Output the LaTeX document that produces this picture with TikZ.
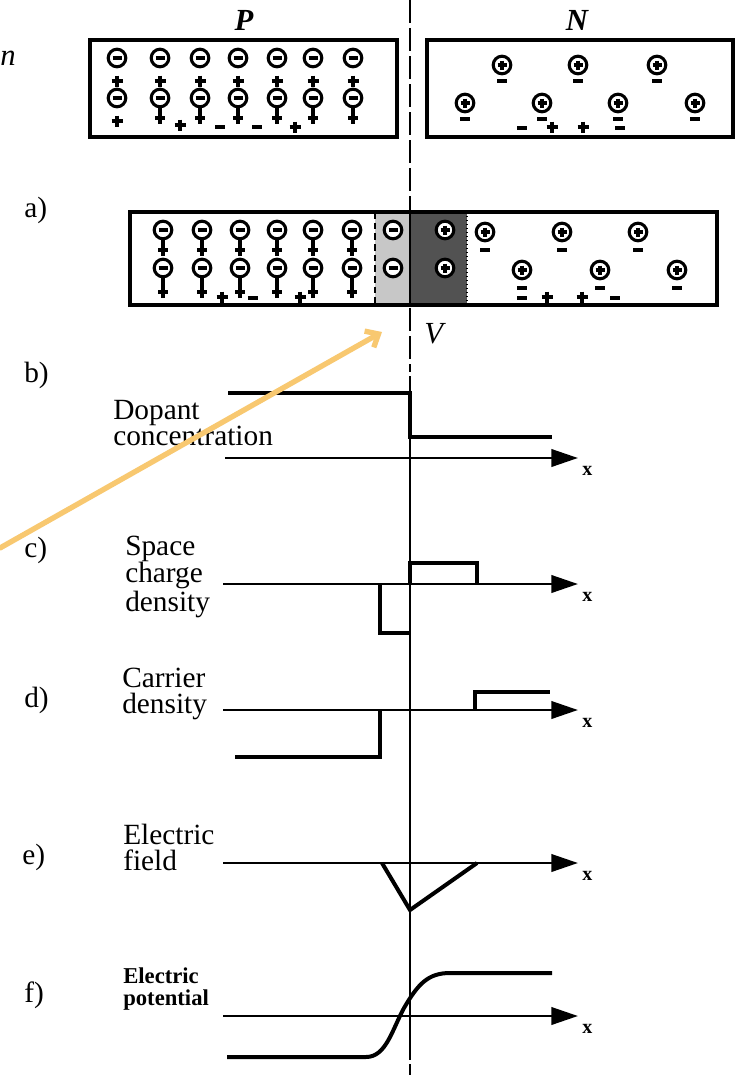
\documentclass[tikz,border=0pt]{standalone}
\usepackage{fontspec}
\setmainfont{Liberation Serif}
\usetikzlibrary{arrows.meta}
\tikzset{
 boxln/.style={line width=2.3pt},
 boxlnb/.style={line width=3pt},
 ionc/.style={line width=2.3pt, fill=white},
 sgn/.style={line width=2.5pt},
 crv/.style={line width=3pt},
 axs/.style={line width=2.2pt, -{Triangle[length=20pt,width=13pt]}},
 vln/.style={line width=2pt},
 lab/.style={anchor=base west, inner sep=0pt, align=left},
 tag/.style={font=\fontsize{22}{24}\selectfont, anchor=west, inner sep=0pt},
 xlab/.style={font=\fontsize{15}{18}\selectfont\bfseries, anchor=base west, inner sep=0pt},
 head/.style={font=\fontsize{23}{26}\selectfont\bfseries\itshape, inner sep=0pt},
 yarrow/.style={line width=4pt, draw={rgb,255:red,248;green,200;blue,112}, line cap=round,
   -{Straight Barb[length=8pt,width=14pt]}}
}
\newcommand\ionA[3]{\begin{scope}[shift={(#1,#2)}]
 \ifnum#3>0 \draw[sgn] (0,9)--(0,#3+6); \draw[sgn] (-5,#3)--(5,#3);\fi
 \draw[ionc] (0,0) circle[radius=6.6pt];
 \draw[sgn] (-4.5,0)--(4.5,0);
\end{scope}}
\newcommand\ionD[3]{\begin{scope}[shift={(#1,#2)}]
 \ifnum#3>0 \draw[sgn] (-5,#3)--(5,#3);\fi
 \draw[ionc] (0,0) circle[radius=6.6pt];
 \draw[sgn] (-4.5,0)--(4.5,0) (0,-4.5)--(0,4.5);
\end{scope}}
\newcommand\hpl[2]{\draw[sgn] (#1-5.5,#2)--(#1+5.5,#2) (#1,#2-5.5)--(#1,#2+5.5);}
\newcommand\emn[2]{\draw[sgn] (#1-5,#2)--(#1+5,#2);}
\begin{document}
\begin{tikzpicture}[x=0.75pt,y=-0.75pt]
\useasboundingbox (0,0) rectangle (735,1075);
\fill[white] (0,0) rectangle (735,1075);

% headings
\node[head] (hP) at (244,20) {P};
\node[head] (hN) at (577,20) {N};
\node[font=\fontsize{23}{26}\selectfont\itshape, inner sep=0pt, anchor=west] (hn) at (0,58) {n};

% main vertical line
\draw[vln, dash pattern=on 17pt off 4pt] (410,0) -- (410,372);
\draw[vln] (410,376) -- (410,1060);
\draw[vln] (410,1064) -- (410,1075);

% ---------- top P box
\draw[boxln] (90,40) rectangle (397,137);
\foreach \xx in {117,160,200,238,277,313,353} {\ionA{\xx}{58}{0} \hpl{\xx}{81}}
\ionA{117}{98}{0} \hpl{117}{121}
\foreach \xx in {160,200,238,277,313,353} {\ionA{\xx}{98}{20}}
\hpl{180}{125} \emn{220}{127} \emn{257}{127} \hpl{295}{127}

% ---------- top N box
\draw[boxln] (427,40) rectangle (733,137);
\foreach \xx in {502,578,657} {\ionD{\xx}{65}{16}}
\foreach \xx in {465,542,618,695} {\ionD{\xx}{103}{16}}
\emn{522}{128} \hpl{552}{127} \hpl{583}{127} \emn{620}{128}

% ---------- box a
\fill[black!22] (375,212) rectangle (410,305);
\fill[black!68] (410,212) rectangle (467,305);
\draw[line width=1.6pt, dash pattern=on 5pt off 3pt] (375,212) -- (375,305);
\draw[line width=1pt, dotted] (467,212) -- (467,305);
\draw[vln] (410,212) -- (410,305);
\foreach \xx in {163,202,240,277,313,352} {\ionA{\xx}{230}{20} \ionA{\xx}{268}{24}}
\ionA{393}{230}{0} \ionA{393}{268}{0}
\ionD{445}{230}{0} \ionD{445}{268}{0}
\foreach \xx in {485,562,638} {\ionD{\xx}{232}{18}}
\foreach \xx in {522,600,677} {\ionD{\xx}{270}{18}}
\hpl{222}{297} \emn{253}{298} \hpl{300}{297}
\emn{522}{298} \hpl{547}{297} \hpl{582}{297} \emn{615}{298}
\draw[boxlnb] (130,212) rectangle (717,305);
\node[font=\fontsize{23}{26}\selectfont\itshape, inner sep=0pt, anchor=base west] (hV) at (424,343) {V};

% ---------- tags
\node[tag] (ta) at (24,210) {a)};
\node[tag] (tb) at (24,375) {b)};
\node[tag] (tc) at (24,550) {c)};
\node[tag] (td) at (24,700) {d)};
\node[tag] (te) at (22,857) {e)};
\node[tag] (tf) at (24,995) {f)};

% ---------- b) dopant concentration
\node[lab, font=\fontsize{22}{19.5}\selectfont] (lb) at (113,445) {Dopant\\concentration};
\draw[crv] (228,393) -- (410,393) -- (410,437) -- (552,437);
\draw[axs] (225,458) -- (578,458);
\node[xlab] (xb) at (582,475) {x};

% ---------- c) space charge density
\node[lab, font=\fontsize{22}{17.3}\selectfont] (lc) at (125,611) {Space\\charge\\density};
\draw[axs] (223,584) -- (578,584);
\draw[crv] (410,584) -- (410,563) -- (477,563) -- (477,584);
\draw[crv] (380,584) -- (380,633) -- (410,633);
\node[xlab] (xc) at (582,601) {x};

% ---------- d) carrier density
\node[lab, font=\fontsize{22}{18.8}\selectfont] (ld) at (122,713) {Carrier\\density};
\draw[axs] (223,710) -- (578,710);
\draw[crv] (475,710) -- (475,692) -- (550,692);
\draw[crv] (235,757) -- (380,757) -- (380,710);
\node[xlab] (xd) at (582,727) {x};

% ---------- e) electric field
\node[lab, font=\fontsize{22}{18.8}\selectfont] (le) at (123,870) {Electric\\field};
\draw[axs] (223,863) -- (578,863);
\draw[crv, line join=miter] (382,863) -- (410,910) -- (477,863);
\node[xlab] (xe) at (582,880) {x};

% ---------- f) electric potential
\node[lab, font=\fontsize{17}{16.5}\selectfont\bfseries] (lf) at (123,1005) {Electric\\potential};
\draw[axs] (223,1016) -- (578,1016);
\draw[crv] (227,1057) -- (366,1057) .. controls (386,1057) and (392,1030) .. (404,1008)
  .. controls (418,984) and (428,973) .. (450,973) -- (552,973);
\node[xlab] (xf) at (582,1033) {x};

% ---------- yellow pointer
\coordinate (ya) at (0,548);
\coordinate (yb) at (382,332);
\draw[yarrow] (ya) -- (yb);
\end{tikzpicture}
\end{document}
